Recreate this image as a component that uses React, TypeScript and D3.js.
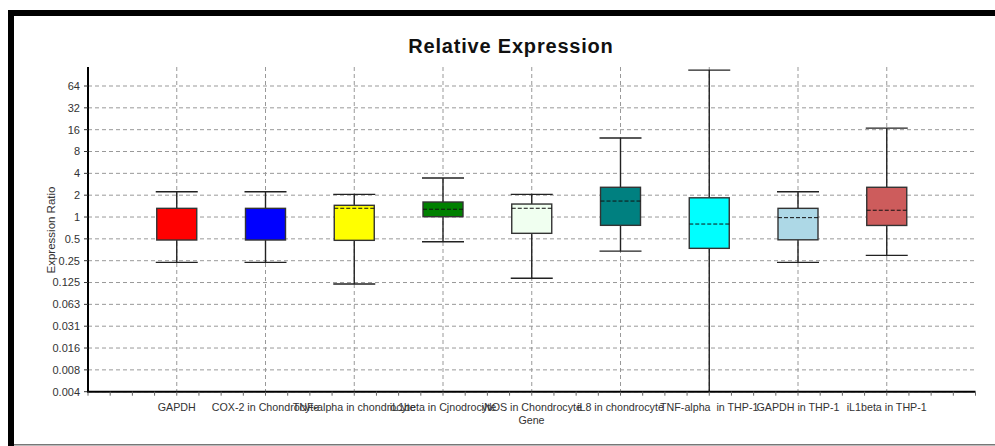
import React from "react";
import * as d3 from "d3";

// Genes along the x axis
const genes = [
  "GAPDH",
  "COX-2 in Chondrocyte",
  "TNF-alpha in chondrocyte",
  "iL1beta in Cjnodrocyte",
  "iNOS in Chondrocyte",
  "iL8 in chondrocyte",
  "TNF-alpha  in THP-1",
  "GAPDH in THP-1",
  "iL1beta in THP-1",
];

// Box-plot statistics per gene (expression ratio)
const whiskerLow = [0.237, 0.237, 0.119, 0.456, 0.143, 0.339, 0.0039, 0.237, 0.296];
const boxLow = [0.482, 0.482, 0.477, 1.01, 0.596, 0.768, 0.37, 0.485, 0.765];
const medians = [1.0, 1.0, 1.32, 1.28, 1.32, 1.66, 0.8, 0.98, 1.24];
const boxHigh = [1.317, 1.317, 1.45, 1.61, 1.51, 2.57, 1.84, 1.317, 2.57];
const whiskerHigh = [2.23, 2.23, 2.05, 3.45, 2.05, 12.3, 106, 2.23, 16.8];
const showMedian = [false, false, true, true, true, true, true, true, true];

const boxColors = [
  "#ff0000",
  "#0000ff",
  "#ffff00",
  "#008000",
  "#f0fff0",
  "#008080",
  "#00ffff",
  "#add8e6",
  "#cd5c5c",
];

// Y axis ticks (powers of two) and their printed labels
const tickExponents = [6, 5, 4, 3, 2, 1, 0, -1, -2, -3, -4, -5, -6, -7, -8];
const tickLabels = [
  "64", "32", "16", "8", "4", "2", "1", "0.5", "0.25", "0.125",
  "0.063", "0.031", "0.016", "0.008", "0.004",
];
const yMin = Math.pow(2, -8);
const yMax = 117;

const W = 995;
const H = 446;
const left = 88;
const right = 975.5;
const top = 67;
const bottom = 391.7;

export default function App() {
  const y = d3.scaleLog().base(2).domain([yMin, yMax]).range([bottom, top]);
  const x = d3.scaleLinear().domain([0, genes.length + 1]).range([left, right]);
  const boxW = 40;
  const capW = 42;
  const minorTicks = d3.range(0, (genes.length + 1) * 4 + 1).map((i) => i / 4);
  const clampY = (v: number) => y(Math.max(v, yMin));

  return (
    <svg
      width={W}
      height={H}
      style={{ position: "absolute", left: 0, top: 0, background: "#fff" }}
      fontFamily="Arial, 'Liberation Sans', sans-serif"
    >
      {/* outer frame */}
      <rect x={8} y={10} width={W - 8} height={6} fill="#000" />
      <rect x={8} y={10} width={6} height={H - 10} fill="#000" />
      <rect x={14} y={444} width={W - 14} height={1.5} fill="#777" />

      <text
        x={511}
        y={53}
        textAnchor="middle"
        fontSize={20}
        fontWeight="bold"
        letterSpacing={0.8}
        fill="#111"
      >
        Relative Expression
      </text>

      {/* horizontal grid */}
      {tickExponents.map((e) => (
        <line
          key={"h" + e}
          x1={left}
          x2={right}
          y1={y(Math.pow(2, e))}
          y2={y(Math.pow(2, e))}
          stroke="#999"
          strokeWidth={1}
          strokeDasharray="4,3"
        />
      ))}
      {/* vertical grid */}
      {genes.map((g, i) => (
        <line
          key={"v" + i}
          x1={x(i + 1)}
          x2={x(i + 1)}
          y1={top}
          y2={bottom}
          stroke="#999"
          strokeWidth={1}
          strokeDasharray="4,3"
        />
      ))}

      {/* boxes */}
      {genes.map((g, i) => {
        const cx = x(i + 1);
        const yb = y(boxLow[i]);
        const yt = y(boxHigh[i]);
        const wl = clampY(whiskerLow[i]);
        const wh = y(whiskerHigh[i]);
        return (
          <g key={"b" + i}>
            <line x1={cx} x2={cx} y1={wl} y2={yb} stroke="#222" strokeWidth={1.4} />
            <line x1={cx} x2={cx} y1={yt} y2={wh} stroke="#222" strokeWidth={1.4} />
            {whiskerLow[i] > yMin && (
              <line x1={cx - capW / 2} x2={cx + capW / 2} y1={wl} y2={wl} stroke="#222" strokeWidth={1.4} />
            )}
            <line x1={cx - capW / 2} x2={cx + capW / 2} y1={wh} y2={wh} stroke="#222" strokeWidth={1.4} />
            <rect
              x={cx - boxW / 2}
              y={yt}
              width={boxW}
              height={yb - yt}
              fill={boxColors[i]}
              stroke="#333"
              strokeWidth={1.4}
            />
            {showMedian[i] && (
              <line
                x1={cx - boxW / 2}
                x2={cx + boxW / 2}
                y1={y(medians[i])}
                y2={y(medians[i])}
                stroke="#111"
                strokeWidth={1}
                strokeDasharray="4,2"
              />
            )}
          </g>
        );
      })}

      {/* y axis */}
      <line x1={left} x2={left} y1={top} y2={bottom + 1} stroke="#000" strokeWidth={2} />
      {tickExponents.map((e, i) => (
        <g key={"yt" + e}>
          <line
            x1={left - 4}
            x2={left}
            y1={y(Math.pow(2, e))}
            y2={y(Math.pow(2, e))}
            stroke="#333"
          />
          <text
            x={left - 8}
            y={y(Math.pow(2, e))}
            dy="0.35em"
            textAnchor="end"
            fontSize={11}
            fill="#333"
          >
            {tickLabels[i]}
          </text>
        </g>
      ))}
      <text
        transform={`translate(55,230) rotate(-90)`}
        textAnchor="middle"
        fontSize={11.5}
        fill="#333"
      >
        Expression Ratio
      </text>

      {/* x axis */}
      <line x1={left - 1} x2={right} y1={bottom} y2={bottom} stroke="#000" strokeWidth={2} />
      {minorTicks.map((t) => (
        <line
          key={"xt" + t}
          x1={x(t)}
          x2={x(t)}
          y1={bottom}
          y2={bottom + 4}
          stroke="#666"
          strokeWidth={1}
        />
      ))}
      {genes.map((g, i) => (
        <text
          key={"xl" + i}
          x={x(i + 1)}
          y={410.5}
          textAnchor="middle"
          fontSize={10.7}
          fill="#333"
          style={{ whiteSpace: "pre" }}
        >
          {g}
        </text>
      ))}
      <text x={531.5} y={424} textAnchor="middle" fontSize={10.7} fill="#333">
        Gene
      </text>
    </svg>
  );
}
